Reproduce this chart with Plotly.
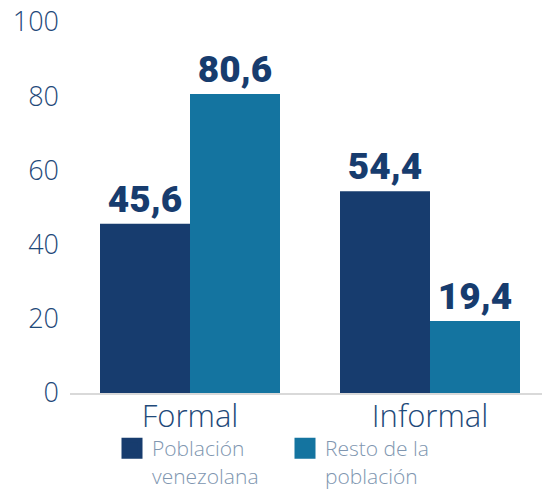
import plotly.graph_objects as go

categories = ["Formal", "Informal"]
venezolana = [45.6, 54.4]
resto = [80.6, 19.4]
series_names = ["Población<br>venezolana", "Resto de la<br>población"]
y_ticks = [0, 20, 40, 60, 80, 100]

DARK = "#173c6e"
TEAL = "#1474a0"
TXT = "#1f4a7a"

fig = go.Figure()
for name, vals, col in [(series_names[0], venezolana, DARK), (series_names[1], resto, TEAL)]:
    fig.add_trace(go.Bar(
        x=categories, y=vals, name=name, marker_color=col, marker_line_width=0,
        texttemplate="%{y:.1f}", textposition="outside", cliponaxis=False,
        textfont=dict(family="Roboto", size=37, color=DARK, weight=900),
        showlegend=False,
    ))
# legend entries with large square swatches
for name, col in [(series_names[0], DARK), (series_names[1], TEAL)]:
    fig.add_trace(go.Scatter(
        x=[None], y=[None], mode="markers", name=name,
        marker=dict(symbol="square", size=16, color=col, line=dict(color=col, width=6)),
    ))

fig.update_layout(
    width=550, height=489,
    margin=dict(l=62, r=8, t=14, b=104),
    plot_bgcolor="white", paper_bgcolor="white",
    separators=",.",
    barmode="group", bargap=0.25, bargroupgap=0,
    showlegend=True,
    legend=dict(orientation="h", x=104/550, xanchor="left", xref="container",
                y=1 - 420/489, yanchor="top", yref="container",
                bgcolor="rgba(0,0,0,0)",
                font=dict(family="Open Sans", size=21, color="#8096b0", weight=300),
                itemwidth=30, traceorder="normal", valign="top",
                entrywidth=128, entrywidthmode="pixels"),
    font=dict(family="Open Sans"),
)
fig.update_xaxes(
    showline=True, linecolor="#d9d9d9", linewidth=2, showgrid=False,
    tickfont=dict(family="Open Sans", size=31, color=TXT, weight=300),
    ticks="", range=[-0.5, 1.5], automargin=False, ticklabelstandoff=-5,
)
fig.update_yaxes(
    range=[0, 100], tickvals=y_ticks, showgrid=False, zeroline=False, showline=False,
    tickfont=dict(family="Open Sans", size=27, color=TXT, weight=300),
    ticks="", ticklabelstandoff=10, automargin=False, ticklabeloverflow="allow",
)
fig.write_html("out.html")
